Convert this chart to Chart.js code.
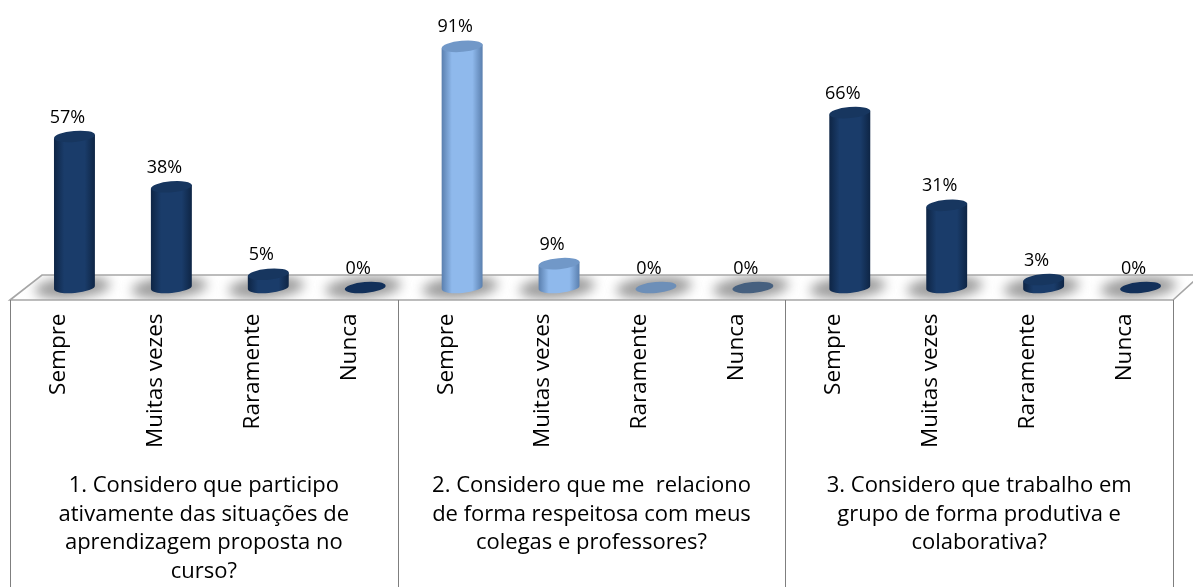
<!DOCTYPE html>
<html><head><meta charset="utf-8">
<style>html,body{margin:0;padding:0;background:#fff}canvas{display:block}</style>
<script src="https://cdn.jsdelivr.net/npm/chart.js@4"></script></head>
<body><div style="width:1193px;height:587px"><canvas id="c"></canvas></div>
<script>
const categories=["Sempre","Muitas vezes","Raramente","Nunca","Sempre","Muitas vezes","Raramente","Nunca","Sempre","Muitas vezes","Raramente","Nunca"];
const values=[57,38,5,0,91,9,0,0,66,31,3,0];
const groupLabels=[
 ["1. Considero que participo","ativamente das situações de","aprendizagem proposta no","curso?"],
 ["2. Considero que me  relaciono","de forma respeitosa com meus","colegas e professores?"],
 ["3. Considero que trabalho em","grupo de forma produtiva e","colaborativa?"]];
const bodyColors=["#1a3c6a","#1a3c6a","#1a3c6a","#1a3c6a","#8fb9ec","#8fb9ec","#8fb9ec","#8fb9ec","#1a3c6a","#1a3c6a","#1a3c6a","#1a3c6a"];
const edgeColors=["#0e2545","#0e2545","#0e2545","#0e2545","#5a7fae","#5a7fae","#5a7fae","#5a7fae","#0e2545","#0e2545","#0e2545","#0e2545"];
const topColors=["#17365f","#17365f","#17365f","#12305a","#7198c8","#7198c8","#6d8fb8","#46607f","#17365f","#17365f","#17365f","#12305a"];
const FONT='"Open Sans", sans-serif';
const DEPTH=16, RY=5.5, TILT=-5*Math.PI/180;

const cylinders={id:'cylinders',
 beforeDatasetDraw(chart){
  const ctx=chart.ctx,a=chart.chartArea;
  const L=a.left,R=a.right,fy=a.bottom+12.5,by=a.bottom-12.5,W=chart.width;
  const meta=chart.getDatasetMeta(0);
  const floor=new Path2D();
  floor.moveTo(L,fy);floor.lineTo(L+32,by);floor.lineTo(W+10,by);floor.lineTo(R+20,fy-18);floor.lineTo(R,fy);floor.closePath();
  ctx.save();
  ctx.fillStyle='#fff';ctx.fill(floor);
  ctx.save();ctx.clip(floor);
  ctx.filter='blur(6px)';ctx.fillStyle='#9c9c9c';
  meta.data.forEach(el=>{ctx.beginPath();ctx.ellipse(el.x+DEPTH-2,a.bottom,38,11,TILT,0,Math.PI*2);ctx.fill();});
  ctx.restore();
  ctx.strokeStyle='#a6a6a6';ctx.lineWidth=1.6;ctx.stroke(floor);
  ctx.strokeStyle='#7f7f7f';ctx.lineWidth=1;ctx.beginPath();
  const n=groupLabels.length;
  for(let i=0;i<=n;i++){const x=Math.round(L+(R-L)*i/n)+.5;ctx.moveTo(x,fy);ctx.lineTo(x,chart.height);}
  ctx.stroke();
  ctx.restore();
  meta.data.forEach((el,i)=>{
   const cx=el.x+DEPTH,w=el.width/2,ty=el.y,by2=el.base;
   ctx.save();
   if(by2-ty>0.5){
    const g=ctx.createLinearGradient(cx-w,0,cx+w,0);
    g.addColorStop(0,edgeColors[i]);g.addColorStop(.25,bodyColors[i]);g.addColorStop(.75,bodyColors[i]);g.addColorStop(1,edgeColors[i]);
    ctx.fillStyle=g;
    ctx.beginPath();
    ctx.ellipse(cx,by2,w,RY,TILT,0,Math.PI);
    ctx.lineTo(cx-w,ty+Math.sin(TILT)*-w);
    ctx.lineTo(cx+w,ty+Math.sin(TILT)*w);
    ctx.closePath();ctx.fill();
   }
   ctx.fillStyle=topColors[i];
   ctx.beginPath();ctx.ellipse(cx,ty,w,RY,TILT,0,Math.PI*2);ctx.fill();
   ctx.restore();
  });
  ctx.save();ctx.font='18px '+FONT;ctx.fillStyle='#000';ctx.textAlign='center';ctx.textBaseline='middle';
  meta.data.forEach((el,i)=>{ctx.fillText(values[i]+'%',el.x+DEPTH-7,el.y-19);});
  ctx.restore();
  return false;
 }};

new Chart(document.getElementById('c'),{
 type:'bar',
 data:{labels:categories,datasets:[{data:values,barThickness:41,backgroundColor:bodyColors}]},
 options:{responsive:true,maintainAspectRatio:false,animation:false,
  layout:{padding:{left:10,right:20,top:22.5,bottom:0}},
  plugins:{legend:{display:false},tooltip:{enabled:false}},
  scales:{
   y:{display:false,min:0,max:100},
   x:{position:'bottom',offset:true,grid:{display:false},border:{display:false},
      afterFit(s){s.height=176;},
      ticks:{autoSkip:false,minRotation:90,maxRotation:90,padding:18,color:'#000',font:{family:FONT,size:22.5}}},
   x2:{type:'category',labels:groupLabels,position:'bottom',offset:true,grid:{display:false},border:{display:false},
      afterFit(s){s.height=123.5;},
      ticks:{autoSkip:false,maxRotation:0,minRotation:0,padding:0,color:'#000',font:{family:FONT,size:22,lineHeight:1.3}}}
  }},
 plugins:[cylinders]});
</script></body></html>
